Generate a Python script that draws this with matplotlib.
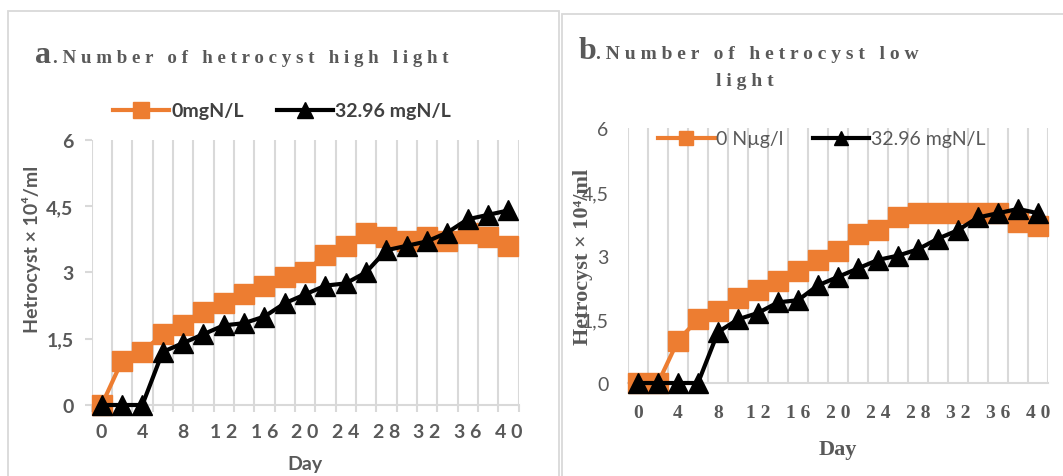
import matplotlib.pyplot as plt
from matplotlib.patches import Rectangle

days = list(range(0, 41, 2))

# heterocyst counts (x 10^4 / ml), high light
zero_n_high = [0, 1.0, 1.2, 1.6, 1.8, 2.1, 2.3, 2.5, 2.7, 2.9, 3.0,
               3.4, 3.6, 3.9, 3.8, 3.7, 3.8, 3.7, 3.9, 3.8, 3.6]
n_high = [0, 0, 0, 1.2, 1.4, 1.6, 1.8, 1.85, 2.0, 2.3, 2.5,
          2.7, 2.75, 3.0, 3.5, 3.6, 3.7, 3.9, 4.2, 4.3, 4.4]

# heterocyst counts (x 10^4 / ml), low light
zero_n_low = [0, 0, 1.0, 1.5, 1.7, 2.0, 2.2, 2.4, 2.65, 2.9, 3.1,
              3.5, 3.6, 3.9, 4.0, 4.0, 4.0, 4.0, 4.0, 3.8, 3.7]
n_low = [0, 0, 0, 0, 1.2, 1.5, 1.65, 1.9, 1.95, 2.3, 2.5,
         2.7, 2.9, 3.0, 3.15, 3.4, 3.6, 3.9, 4.0, 4.1, 4.0]

y_ticks = [0, 1.5, 3, 4.5, 6]
y_labels = ['0', '1,5', '3', '4,5', '6']
x_ticks = list(range(0, 41, 4))
x_labels = [' '.join(str(d)) for d in x_ticks]

ORANGE = '#ED7D31'
GRID = '#d9d9d9'
GREY = '#595959'
SANS = ['Lato', 'DejaVu Sans']
SERIF = ['Liberation Serif', 'DejaVu Serif']

W, H = 1063, 477
fig = plt.figure(figsize=(W / 100, H / 100), dpi=100)


def px(x, y):
    return x / W, 1 - y / H


def spaced(s):
    return ' '.join(s)


# panel borders
fig.patches.append(Rectangle((8 / W, -0.05), (559 - 8) / W, 1.05 - 12 / H,
                             transform=fig.transFigure, fill=False,
                             ec=GRID, lw=1.3))
fig.patches.append(Rectangle((562 / W, -0.05), 0.5, 1.05 - 15 / H,
                             transform=fig.transFigure, fill=False,
                             ec=GRID, lw=1.3))


def setup(ax, tick_font, tick_weight, ytick_font, ytick_weight, ticks_out):
    ax.set_xlim(-1, 41)
    ax.set_ylim(0, 6)
    for s in ['top', 'right', 'left']:
        ax.spines[s].set_visible(False)
    ax.spines['bottom'].set_color(GRID)
    ax.spines['bottom'].set_linewidth(1.5)
    ax.set_xticks(range(-1, 42, 2), minor=True)
    ax.grid(which='minor', axis='x', color=GRID, lw=1.5)
    ax.set_xticks(x_ticks)
    ax.set_xticklabels(x_labels, family=tick_font, weight=tick_weight,
                       color=GREY, fontsize=14)
    ax.set_yticks(y_ticks)
    ax.set_yticklabels(y_labels, family=ytick_font, weight=ytick_weight,
                       color=GREY, fontsize=14)
    ax.tick_params(axis='x', which='major', length=0)
    if ticks_out:
        ax.tick_params(axis='x', which='minor', length=5, color=GRID, width=1.5)
        ax.tick_params(axis='y', length=5, color=GRID, width=1.5, pad=8)
        ax.tick_params(axis='x', which='major', pad=13)
    else:
        ax.tick_params(axis='x', which='minor', length=0)
        ax.tick_params(axis='y', length=0, pad=14)
        ax.tick_params(axis='x', which='major', pad=15)
    ax.set_axisbelow(True)


def series(ax, y0, y1, lab0, lab1):
    ax.plot(days, y0, color=ORANGE, lw=3, marker='s', ms=15, mec=ORANGE,
            clip_on=False, label=lab0, zorder=3)
    ax.plot(days, y1, color='black', lw=3, marker='^', ms=15, mec='black',
            clip_on=False, label=lab1, zorder=4)


# a: high light
ax1 = fig.add_axes([91.5 / W, 1 - 406 / H, 427 / W, 265.3 / H])
setup(ax1, SANS, 'bold', SANS, 'bold', True)
series(ax1, zero_n_high, n_high, '0mgN/L', '32.96 mgN/L')
ax1.set_xlabel('Day', family=SANS, weight='bold', color=GREY, fontsize=14,
               labelpad=11)
leg1 = ax1.legend(loc='center', bbox_to_anchor=px(282, 112),
                  bbox_transform=fig.transFigure, ncol=2, frameon=False,
                  handlelength=2.9, handletextpad=0.1, columnspacing=1.7,
                  markerscale=0.75, prop={'family': SANS, 'weight': 'bold',
                                          'size': 14})
for t in leg1.get_texts():
    t.set_color('#404040')
fig.text(*px(32, 249), 'Hetrocyst × 10\u2074/ml', rotation=90, ha='center',
         va='center', family=SANS, weight='bold', color=GREY, fontsize=14)
fig.text(*px(35, 63), 'a', family=SERIF, weight='bold', color=GREY,
         fontsize=23, va='baseline')
fig.text(*px(53, 63), '. ' + spaced('Number of hetrocyst high light'),
         family=SERIF, weight='bold', color=GREY, fontsize=13.6, va='baseline')

# b: low light
ax2 = fig.add_axes([628 / W, 1 - 384 / H, 420 / W, 254.7 / H])
setup(ax2, SERIF, 'bold', SANS, 'normal', False)
series(ax2, zero_n_low, n_low, '0 Nµg/l', '32.96 mgN/L')
ax2.set_xlabel('Day', family=SERIF, weight='bold', color=GREY, fontsize=16,
               labelpad=13)
leg2 = ax2.legend(loc='center', bbox_to_anchor=px(822, 140),
                  bbox_transform=fig.transFigure, ncol=2, frameon=False,
                  handlelength=2.9, handletextpad=0.1, columnspacing=1.5,
                  markerscale=0.7, prop={'family': SANS, 'size': 14})
for t in leg2.get_texts():
    t.set_color(GREY)
fig.text(*px(583, 257), 'Hetrocyst × 10\u2074/ml', rotation=90, ha='center',
         va='center', family=SERIF, weight='bold', color=GREY, fontsize=16)
fig.text(*px(579, 59), 'b', family=SERIF, weight='bold', color=GREY,
         fontsize=23, va='baseline')
fig.text(*px(596, 59), '. ' + spaced('Number of hetrocyst low'),
         family=SERIF, weight='bold', color=GREY, fontsize=14, va='baseline')
fig.text(*px(745, 86), spaced('light'), ha='center', family=SERIF,
         weight='bold', color=GREY, fontsize=14, va='baseline')

fig.savefig('out.png', dpi=100)
